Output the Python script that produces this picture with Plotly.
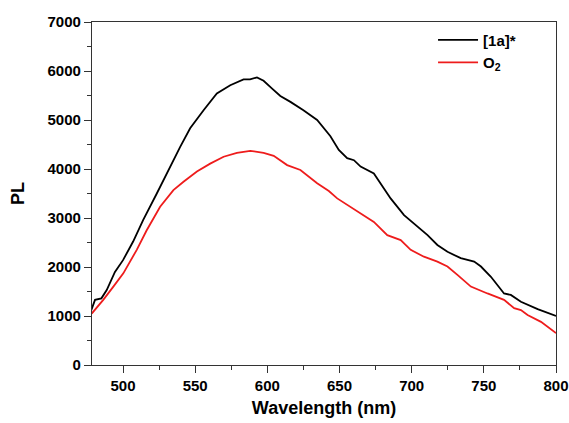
import plotly.graph_objects as go

wl_1a = [478, 480.6, 485, 488.7, 494.4, 500, 507, 514, 523.4, 532.6, 539.6, 546.5, 555.8, 565, 574.3, 583.5, 588,
         592.8, 597.4, 603.3, 609, 616, 625, 634.5, 643.7, 649.5, 655.3, 660, 664.6, 673.8, 678.5, 685.4, 694.7,
         704, 711, 717.8, 724.8, 734, 743.3, 748, 754.9, 764, 768.7, 775.7, 787.3, 800]
pl_1a = [1120, 1330, 1360, 1530, 1900, 2140, 2520, 2960, 3500, 4050, 4450, 4830, 5200, 5540, 5710, 5830, 5830,
         5870, 5800, 5640, 5490, 5370, 5200, 5000, 4670, 4390, 4220, 4180, 4050, 3910, 3710, 3400, 3060,
         2820, 2650, 2450, 2310, 2180, 2110, 2010, 1800, 1460, 1430, 1290, 1140, 1000]

wl_o2 = [478.3, 486.3, 493.3, 500.2, 509.5, 516.4, 525.7, 534.9, 541.9, 551.2, 560.4, 569.7, 578.9, 588.2, 597.4,
         604.4, 613.7, 622.9, 634.5, 642.6, 648.4, 662.3, 673.8, 683.1, 692.4, 699.3, 708.5, 717.8, 724.8, 731.7,
         741, 752.5, 764, 771, 775.7, 780.3, 789.6, 800]
pl_o2 = [1050, 1330, 1600, 1870, 2350, 2750, 3230, 3570, 3740, 3950, 4110, 4250, 4330, 4370, 4330,
         4270, 4080, 3980, 3710, 3550, 3400, 3130, 2920, 2650, 2550, 2350, 2210, 2110, 2010, 1840,
         1600, 1460, 1330, 1160, 1120, 1020, 880, 650]

FAM = "Liberation Sans, Arial"

fig = go.Figure()
fig.add_trace(go.Scatter(x=wl_1a, y=pl_1a, mode="lines", name="[1a]*",
                         line=dict(color="black", width=1.8)))
fig.add_trace(go.Scatter(x=wl_o2, y=pl_o2, mode="lines", name="O<sub>2</sub>",
                         line=dict(color="#ee1c1c", width=1.8)))

fig.update_layout(
    width=569, height=423,
    margin=dict(l=92, r=13, t=22, b=58, autoexpand=False),
    paper_bgcolor="white", plot_bgcolor="white",
    showlegend=True,
    legend=dict(x=0.735, y=0.995, xanchor="left", yanchor="top",
                font=dict(family=FAM, size=15, color="black", weight="bold"),
                bgcolor="rgba(0,0,0,0)", tracegroupgap=0, itemwidth=40),
    font=dict(family=FAM, color="black"),
)
fig.update_xaxes(range=[478.5, 800], tickvals=[500, 550, 600, 650, 700, 750, 800],
                 ticks="outside", ticklen=7, tickwidth=1.2, tickcolor="#333", automargin=False,
                 minor=dict(tickvals=[525, 575, 625, 675, 725, 775], ticks="outside", ticklen=4, tickcolor="#333"),
                 showline=True, linecolor="#333", linewidth=1.2, mirror=True, showgrid=False, zeroline=False,
                 tickfont=dict(size=15, weight="bold", family=FAM),
                 title=dict(text="Wavelength (nm)", font=dict(size=18, weight="bold", family=FAM),
                            standoff=8))
fig.update_yaxes(range=[0, 7000], tickvals=[0, 1000, 2000, 3000, 4000, 5000, 6000, 7000],
                 ticks="outside", ticklen=7, tickwidth=1.2, tickcolor="#333", automargin=False,
                 minor=dict(tickvals=[500, 1500, 2500, 3500, 4500, 5500, 6500], ticks="outside", ticklen=4, tickcolor="#333"),
                 showline=True, linecolor="#333", linewidth=1.2, mirror=True, showgrid=False, zeroline=False,
                 tickfont=dict(size=15, weight="bold", family=FAM),
                 title=dict(text="PL", font=dict(size=18, weight="bold", family=FAM),
                            standoff=18))

fig.write_html("out.html")
